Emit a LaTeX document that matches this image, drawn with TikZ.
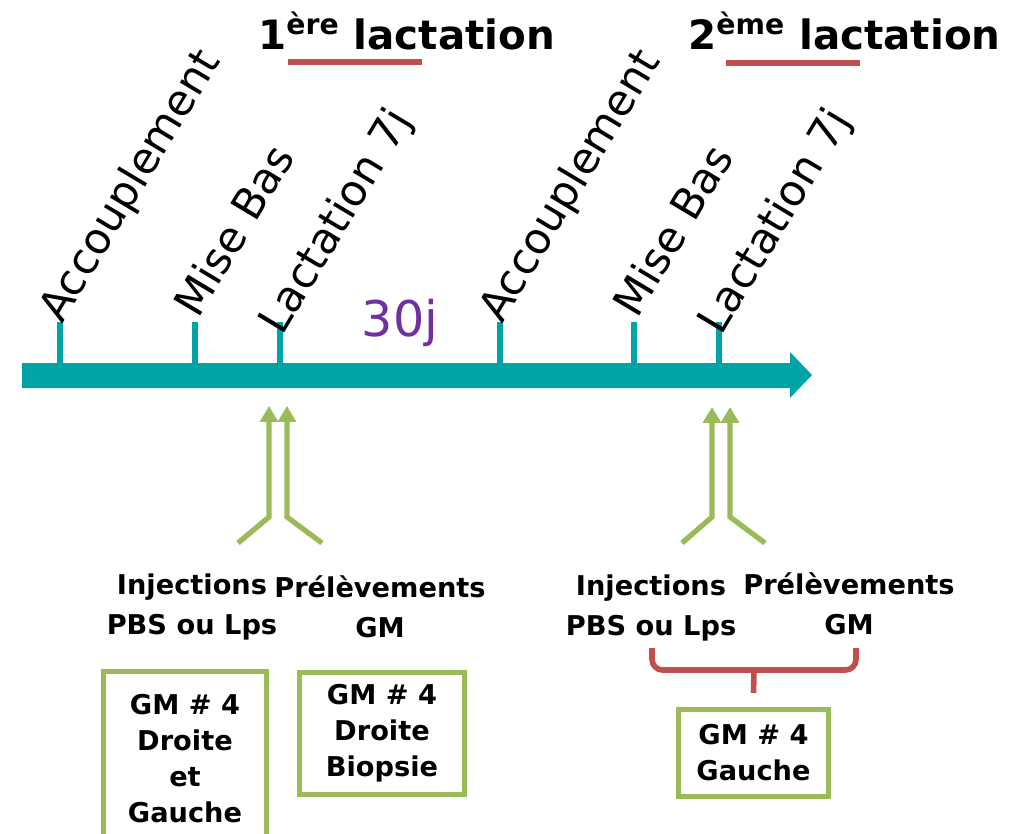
\documentclass[tikz,border=0pt]{standalone}
\usepackage{fontspec}
\setmainfont{DejaVu Sans}
\usetikzlibrary{arrows.meta,positioning}

\definecolor{axisteal}{RGB}{0,163,166}
\definecolor{boxgreen}{RGB}{155,187,89}
\definecolor{bracered}{RGB}{192,80,77}
\definecolor{daypurple}{RGB}{112,48,160}

\begin{document}
\begin{tikzpicture}[
        x=0.02cm, y=-0.02cm,
        event/.style={rotate=59, anchor=base west, inner sep=0pt, font=\fontsize{24.5}{25}\selectfont},
        title/.style={anchor=base west, inner sep=0pt, font=\bfseries\fontsize{23}{26}\selectfont},
        tickmark/.style={draw=axisteal, line width=3.6pt},
        caption/.style={align=center, inner sep=0pt, font=\bfseries\fontsize{15.5}{22.8}\selectfont},
        gmbox/.style={draw=boxgreen, line width=2.8pt, align=center, inner sep=0pt, font=\bfseries\fontsize{15.5}{20.5}\selectfont},
        feed/.style={draw=boxgreen, line width=3pt, -{Triangle[length=9pt,width=10pt]}},
        mark line/.style={draw=bracered, line width=3.2pt},
    ]
    \useasboundingbox (0,0) rectangle (1013,834);

    % Time axis
    \fill[axisteal] (22,363) -- (790,363) -- (790,352) -- (812,375) -- (790,398) -- (790,388) -- (22,388) -- cycle;

    % Ticks on the axis
    \foreach \n/\x in {1/60, 2/195, 3/280, 4/500, 5/634, 6/719} {
        \coordinate (t\n) at (\x,322);
        \draw[tickmark] (\x,363) -- (t\n);
    }

    % Events above the ticks
    \node[event] (acc1) at ([shift={(2,3)}]t1) {Accouplement};
    \node[event] (mb1) at ([shift={(3,-2)}]t2) {Mise Bas};
    \node[event] (lac1) at ([shift={(2,15)}]t3) {Lactation 7j};
    \node[event] (acc2) at ([shift={(2,3)}]t4) {Accouplement};
    \node[event] (mb2) at ([shift={(3,-2)}]t5) {Mise Bas};
    \node[event] (lac2) at ([shift={(2,15)}]t6) {Lactation 7j};

    \node[text=daypurple, font=\fontsize{28}{28}\selectfont, inner sep=0pt] (days) at (400,323) {30j};

    % Lactation titles
    \node[title] (first) at (258,50) {1\textsuperscript{ère} lactation};
    \node[title] (second) at (688,50) {2\textsuperscript{ème} lactation};
    \draw[mark line] (288,62) -- (422,62);
    \draw[mark line] (726,63) -- (860,63);

    % Injections and samplings
    \node[caption] (inj1) at (192,607) {Injections\\PBS ou Lps};
    \node[caption] (pre1) at (380,607) {Prélèvements\\GM};
    \node[caption] (inj2) at (651,608) {Injections\\PBS ou Lps};
    \node[caption] (pre2) at (849,604) {Prélèvements\\GM};

    \coordinate (a1) at (238,543);
    \coordinate (b1) at (322,543);
    \coordinate (a2) at (682,543);
    \coordinate (b2) at (765,543);
    \draw[feed] (a1) -- (269,517) -- (269,406);
    \draw[feed] (b1) -- (287,517) -- (287,406);
    \draw[feed] (a2) -- (712,517) -- (712,407);
    \draw[feed] (b2) -- (730,517) -- (730,407);

    % Glands
    \node[gmbox, minimum width=3.26cm, minimum height=3.5cm] (gm1) at (185,759) {GM \# 4\\Droite\\et\\Gauche};
    \node[gmbox, minimum width=3.3cm, minimum height=2.44cm] (gm2) at (382,733.5) {GM \# 4\\Droite\\Biopsie};
    \node[gmbox, minimum width=3.0cm, minimum height=1.74cm] (gm3) at (753.5,753) {GM \# 4\\Gauche};

    % Brace to the left gland
    \coordinate (br1) at (652,648);
    \coordinate (br2) at (856,648);
    \coordinate (brmid) at (754,670);
    \draw[mark line, rounded corners=6pt] (br1) -- (652,670) -- (856,670) -- (br2);
    \draw[mark line] (brmid) -- ([yshift=8pt]gm3.north);

\end{tikzpicture}
\end{document}
